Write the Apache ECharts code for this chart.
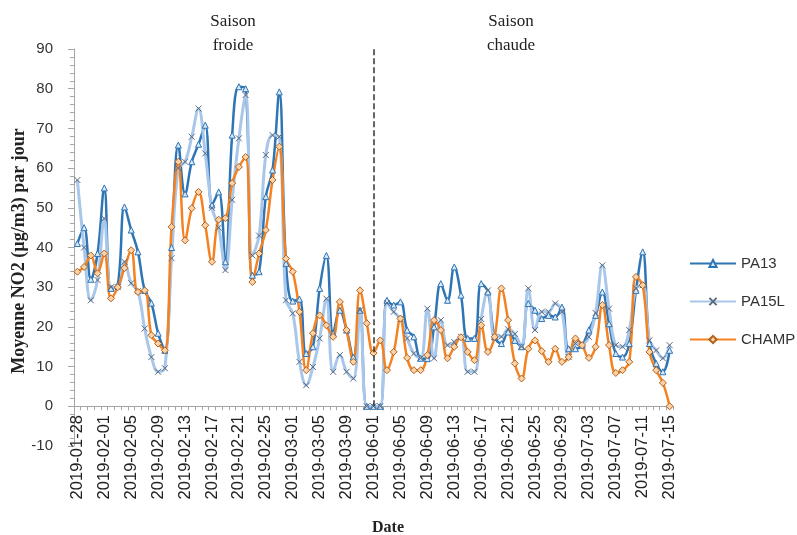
<!DOCTYPE html>
<html>
<head>
<meta charset="utf-8">
<script src="https://cdn.jsdelivr.net/npm/echarts@6/dist/echarts.min.js"></script>
<style>html,body{margin:0;padding:0;background:#fff;}#c{width:797px;height:535px;}</style>
</head>
<body>
<div id="c"></div>
<script>
var datesCold = [
'2019-01-28','2019-01-29','2019-01-30','2019-01-31',
'2019-02-01','2019-02-02','2019-02-03','2019-02-04','2019-02-05','2019-02-06','2019-02-07','2019-02-08','2019-02-09','2019-02-10',
'2019-02-11','2019-02-12','2019-02-13','2019-02-14','2019-02-15','2019-02-16','2019-02-17','2019-02-18','2019-02-19','2019-02-20',
'2019-02-21','2019-02-22','2019-02-23','2019-02-24','2019-02-25','2019-02-26','2019-02-27','2019-02-28',
'2019-03-01','2019-03-02','2019-03-03','2019-03-04','2019-03-05','2019-03-06','2019-03-07','2019-03-08','2019-03-09','2019-03-10','2019-03-11','2019-03-12'];
var datesWarm = [
'2019-06-01','2019-06-02','2019-06-03','2019-06-04','2019-06-05','2019-06-06','2019-06-07','2019-06-08','2019-06-09','2019-06-10',
'2019-06-11','2019-06-12','2019-06-13','2019-06-14','2019-06-15','2019-06-16','2019-06-17','2019-06-18','2019-06-19','2019-06-20',
'2019-06-21','2019-06-22','2019-06-23','2019-06-24','2019-06-25','2019-06-26','2019-06-27','2019-06-28','2019-06-29','2019-06-30',
'2019-07-01','2019-07-02','2019-07-03','2019-07-04','2019-07-05','2019-07-06','2019-07-07','2019-07-08','2019-07-09','2019-07-10',
'2019-07-11','2019-07-12','2019-07-13','2019-07-14','2019-07-15'];

var pa13Cold = [41,45,32,38.5,55,29.7,30.5,50.2,44.4,38.9,29.2,26,18.4,14.1,40,65.8,53.5,61.6,66,70.8,50.7,54,36.4,68.3,80.5,80,33,33.9,52.8,59.5,79.2,36,26.5,27,13.3,15,29.7,38,18.4,24.2,19.2,12.4,24.2,0];
var pa13Warm = [0,0,26.7,25.5,26.3,19.2,17.5,12.1,12,20,30.9,26.7,35.1,28,17.1,17.1,30.9,28.8,17.5,15.8,18.7,16.6,15,25.9,24.2,22.1,22.9,22.5,25,14.5,14.5,15.4,19.2,22.9,28.8,20.8,13.3,12.4,15.8,29.2,38.9,15.8,10.8,8.7,14.1];

var pa15lCold = [57,40,26.7,31.8,47.3,30,30,36.4,31,29,19.6,12.4,8.7,9.6,37.3,60,61.6,67.9,75,63.7,50,45,34.3,52,67.5,78.4,38,43,63.3,68.3,67.9,26.7,23.4,11.2,5.3,9.9,17.1,27.1,8.7,12.9,8.7,7,24.2,0];
var pa15lWarm = [0,0,26,23.8,22,17.1,13.3,12.1,24.6,12.1,21.7,15.4,16.2,17.5,8.7,8.7,22,29.2,17.5,17.5,19.4,18.2,15,29.7,19.2,23.8,23.8,25.9,23.8,12.4,15.8,15.8,17.5,23.5,35.5,24.6,15.4,15,19.2,29.7,30.5,16.6,14.1,12.1,15.4];

var champCold = [33.9,35.1,38,33.5,38.5,27.2,30,34.8,39.3,28.8,29.2,17.9,15.8,14.1,45.2,61.6,41.8,49.9,54,45.6,36.4,47,47.4,56.2,60.3,62.8,31.3,38.5,44.4,57,65.4,37.2,33.9,23.8,9.1,18.4,22.9,20.4,17.5,26.3,19.2,11.2,29.2,20.9];
var champWarm = [13.4,16.6,9.1,13.7,22.1,12.2,9.1,9.1,12.9,21.7,19.2,12.1,15,17.4,13.7,11.6,20.4,13.7,17.5,29.7,21.7,10.8,7,14.5,16.6,13.9,11.2,14.5,11.2,12.4,17.1,15.4,12.2,15,25.5,15.4,8.4,9.1,11.2,32.6,30.5,13.7,9.1,5.9,0];

var yTicks = {min: -10, max: 90, step: 10};
var seasonLabels = ['Saison\nfroide', 'Saison\nchaude'];
var yTitle = 'Moyenne NO2 (µg/m3) par jour';
var splitDate = '2019-06-01';

var categories = datesCold.concat(datesWarm);
var pa13 = pa13Cold.concat(pa13Warm);
var pa15l = pa15lCold.concat(pa15lWarm);
var champ = champCold.concat(champWarm);

var chart = echarts.init(document.getElementById('c'));
var axisGray = '#a6a6a6';
chart.setOption({
  animation: false,
  backgroundColor: '#fff',
  title: [
    {text: seasonLabels[0], left: 228, top: 5, textAlign: 'center',
     textStyle: {fontFamily: 'Liberation Serif', fontSize: 17, fontWeight: 'normal', color: '#222', lineHeight: 24}},
    {text: seasonLabels[1], left: 506, top: 5, textAlign: 'center',
     textStyle: {fontFamily: 'Liberation Serif', fontSize: 17, fontWeight: 'normal', color: '#222', lineHeight: 24}},
    {text: 'Date', left: 383, top: 515, textAlign: 'center',
     textStyle: {fontFamily: 'Liberation Serif', fontSize: 16, fontWeight: 'bold', color: '#222'}}
  ],
  graphic: [{
    type: 'text', x: 19, y: 251, rotation: Math.PI / 2,
    style: {text: yTitle, align: 'center', verticalAlign: 'middle',
            font: 'bold 18px "Liberation Serif"', fill: '#222'}
  }],
  legend: {
    orient: 'vertical', left: 684, top: 251, itemGap: 23, itemWidth: 46, itemHeight: 9,
    textStyle: {fontFamily: 'Liberation Sans', fontSize: 15, color: '#333'},
    data: ['PA13', 'PA15L', 'CHAMP']
  },
  grid: {left: 74, right: 124, top: 49, bottom: 89, containLabel: false, outerBoundsMode: 'none'},
  xAxis: [
    {
      type: 'category', data: categories, boundaryGap: true,
      axisLine: {onZero: true, lineStyle: {color: axisGray, width: 1}},
      axisTick: {show: true, interval: 0, length: 4, lineStyle: {color: axisGray}},
      axisLabel: {show: false},
      splitLine: {show: false}
    },
    {
      type: 'category', data: categories, boundaryGap: true, position: 'bottom', offset: -40,
      axisLine: {show: false, onZero: false},
      axisTick: {show: false},
      axisLabel: {interval: 3, rotate: 90, margin: 9, fontFamily: 'Liberation Sans', fontSize: 16.5, color: '#222'},
      splitLine: {show: false}
    }
  ],
  yAxis: {
    type: 'value', min: yTicks.min, max: yTicks.max, interval: yTicks.step,
    axisLine: {show: true, lineStyle: {color: axisGray}},
    axisTick: {show: true, length: 6, lineStyle: {color: axisGray}},
    minorTick: {show: true, splitNumber: 5, length: 4, lineStyle: {color: axisGray}},
    axisLabel: {fontFamily: 'Liberation Sans', fontSize: 15, color: '#333', margin: 21},
    splitLine: {show: false}
  },
  series: [
    {
      name: 'PA13', type: 'line', data: pa13, smooth: 0.4, showAllSymbol: true,
      symbol: 'triangle', symbolSize: 6,
      lineStyle: {color: '#2e75b6', width: 2.5},
      itemStyle: {color: '#dbe8f5', borderColor: '#2e75b6', borderWidth: 1},
      markLine: {
        silent: true, symbol: ['none', 'none'], label: {show: false},
        lineStyle: {color: '#333', type: 'dashed', width: 1.5},
        data: [[{coord: [splitDate, 0]}, {coord: [splitDate, 90]}]]
      }
    },
    {
      name: 'PA15L', type: 'line', data: pa15l, smooth: 0.4, showAllSymbol: true,
      symbol: 'path://M0,0L10,10M10,0L0,10', symbolSize: 6,
      lineStyle: {color: '#a9c7ea', width: 3},
      itemStyle: {color: 'rgba(0,0,0,0)', borderColor: '#5b6b80', borderWidth: 1}
    },
    {
      name: 'CHAMP', type: 'line', data: champ, smooth: 0.4, showAllSymbol: true,
      symbol: 'diamond', symbolSize: 7,
      lineStyle: {color: '#f58220', width: 2.5},
      itemStyle: {color: '#fcd2a6', borderColor: '#b0601a', borderWidth: 1}
    }
  ]
});
</script>
</body>
</html>
